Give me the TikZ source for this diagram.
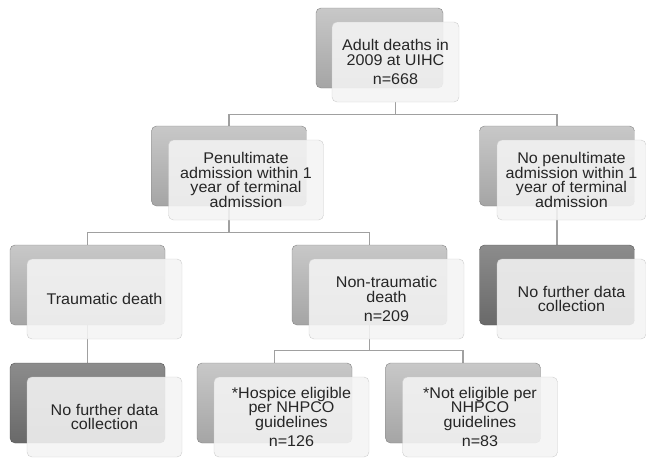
\documentclass[tikz,border=0pt]{standalone}
\usepackage{fontspec}
\setmainfont{Liberation Sans}[FakeStretch=1.04]
\usetikzlibrary{backgrounds}
\definecolor{backtop}{RGB}{200,200,200}
\definecolor{backbot}{RGB}{165,165,165}
\definecolor{darktop}{RGB}{140,140,140}
\definecolor{darkbot}{RGB}{105,105,105}
\definecolor{frontfill}{RGB}{244,244,244}
\definecolor{frontline}{RGB}{205,205,205}
\definecolor{linkgray}{RGB}{160,160,160}

\tikzset{
  backbox/.style={rectangle, rounded corners=5pt, draw=backbot!80!black, top color=backtop, bottom color=backbot, minimum width=155pt, minimum height=80pt},
  darkbox/.style={backbox, draw=darkbot!80!black, top color=darktop, bottom color=darkbot},
  frontbox/.style={rectangle, rounded corners=5pt, draw=frontline, fill=frontfill, fill opacity=0.88, text opacity=1, minimum width=155pt, minimum height=80pt, align=center, text=black!85, font=\fontsize{15.5}{14.5}\selectfont},
  link/.style={draw=linkgray, line width=1.2pt}
}

\begin{document}
\begin{tikzpicture}[x=1pt, y=-1pt]
    \useasboundingbox (0,0) rectangle (646,458);

    % Top level
    \node[backbox, minimum width=127pt] (adultB) at (379.5,48) {};
    \node[frontbox, minimum width=127pt] (adultF) at (395.5,62) {Adult deaths in\\2009 at UIHC\\[5pt]n=668};

    % Second level
    \node[backbox] (penB) at (229,166) {};
    \node[frontbox] (penF) at (246,180) {Penultimate\\admission within 1\\year of terminal\\admission};
    \node[backbox] (noPenB) at (557,166) {};
    \node[frontbox, minimum width=149pt] (noPenF) at (571.5,180) {No penultimate\\admission within 1\\year of terminal\\admission};

    % Third level
    \node[backbox] (traumB) at (87.5,285) {};
    \node[frontbox] (traumF) at (104.5,299) {Traumatic death};
    \node[backbox] (nonB) at (369.5,285) {};
    \node[frontbox] (nonF) at (386.5,299) {Non-traumatic\\death\\[5pt]n=209};
    \node[darkbox] (stopRB) at (557,285) {};
    \node[frontbox, minimum width=149pt] (stopRF) at (571.5,299) {No further data\\collection};

    % Bottom level
    \node[darkbox] (stopLB) at (87.5,403) {};
    \node[frontbox] (stopLF) at (104.5,417) {No further data\\collection};
    \node[backbox] (hospB) at (274.5,403) {};
    \node[frontbox] (hospF) at (291.5,417) {*Hospice eligible\\per NHPCO\\guidelines\\[5pt]n=126};
    \node[backbox] (notB) at (463,403) {};
    \node[frontbox] (notF) at (480,417) {*Not eligible per\\NHPCO\\guidelines\\[5pt]n=83};

    % Connectors
    \begin{scope}[on background layer]
        \draw[link] (adultF.south) -- ++(0,12) -| (penB.north);
        \draw[link] (adultF.south) -- ++(0,12) -| (noPenB.north);
        \draw[link] (penB.south) -- ++(0,26) -| (traumB.north);
        \draw[link] (penB.south) -- ++(0,26) -| (nonB.north);
        \draw[link] (noPenB.south) -- (stopRB.north);
        \draw[link] (traumB.south) -- (stopLB.north);
        \draw[link] (nonB.south) -- ++(0,25) -| (hospB.north);
        \draw[link] (nonB.south) -- ++(0,25) -| (notB.north);
    \end{scope}
\end{tikzpicture}
\end{document}
